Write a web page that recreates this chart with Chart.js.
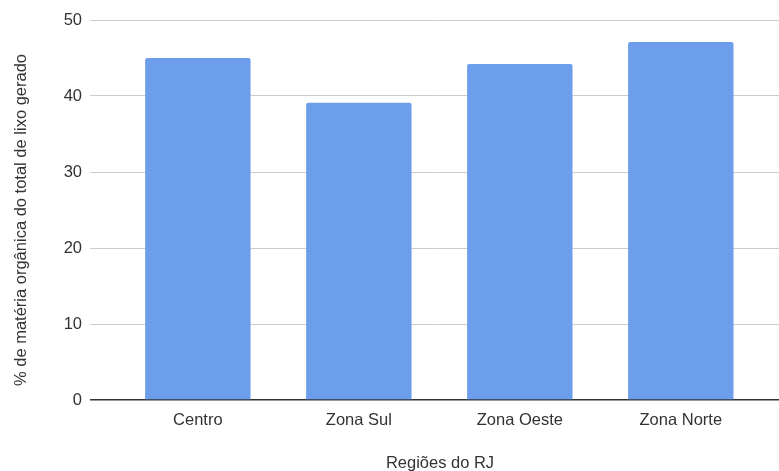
<!DOCTYPE html>
<html>
<head>
<meta charset="utf-8">
<script src="https://cdn.jsdelivr.net/npm/chart.js@4"></script>
<style>
  html, body { margin: 0; padding: 0; background: #fff; }
  #wrap { width: 779px; height: 471px; }
</style>
</head>
<body>
<div id="wrap"><canvas id="my-chart"></canvas></div>
<script>
const regions = ["Centro", "Zona Sul", "Zona Oeste", "Zona Norte"];
const organicShare = [45.0, 39.1, 44.2, 47.1];
const yTicks = [0, 10, 20, 30, 40, 50];
const xTitle = "Regiões do RJ";
const yTitle = "% de matéria orgânica do total de lixo gerado";

const font = { family: "'Liberation Sans', Arial, sans-serif", size: 16.5 };
const textColor = "#333";

// axis titles, placed by hand so they sit where the sheet put them
const axisTitles = {
    id: "axisTitles",
    afterDraw: (chart) => {
        const ctx = chart.ctx;
        ctx.save();
        ctx.font = `${font.size}px ${font.family}`;
        ctx.fillStyle = textColor;
        ctx.textAlign = "center";
        ctx.textBaseline = "middle";
        ctx.fillText(xTitle, 440, 463);
        ctx.translate(21, 220);
        ctx.rotate(-Math.PI / 2);
        ctx.fillText(yTitle, 0, 0);
        ctx.restore();
    },
};

const myChart = document.getElementById("my-chart");

new Chart(myChart, {
    type: "bar",
    data: {
        datasets: [
            {
                label: "% de matéria orgânica",
                data: regions.map((r, i) => ({ x: i, y: organicShare[i] })),
                backgroundColor: "#6d9eeb",
                borderRadius: 2,
                borderSkipped: "bottom",
                barPercentage: 0.655,
                categoryPercentage: 1,
            },
        ],
    },
    plugins: [axisTitles],
    options: {
        responsive: true,
        maintainAspectRatio: false,
        animation: false,
        layout: { padding: { top: 20, right: 0, left: 0, bottom: 0 } },
        plugins: {
            legend: { display: false },
            tooltip: { enabled: false },
        },
        scales: {
            x: {
                type: "linear",
                offset: false,
                min: -0.67,
                max: 3.61,
                afterBuildTicks: (scale) => {
                    scale.ticks = regions.map((r, i) => ({ value: i }));
                },
                afterFit: (scale) => { scale.height = 71; },
                grid: { display: false },
                border: { display: false },
                ticks: {
                    color: textColor,
                    font: font,
                    padding: 3,
                    maxRotation: 0,
                    autoSkip: false,
                    callback: (v) => regions[v],
                },
            },
            y: {
                min: 0,
                max: 50,
                afterBuildTicks: (scale) => {
                    scale.ticks = yTicks.map((v) => ({ value: v }));
                },
                afterFit: (scale) => { scale.width = 90; },
                border: { display: false },
                grid: {
                    color: (ctx) => (ctx.tick.value === 0 ? "#333" : "#ccc"),
                    lineWidth: (ctx) => (ctx.tick.value === 0 ? 1.5 : 1),
                    drawTicks: false,
                },
                ticks: {
                    color: textColor,
                    font: font,
                    padding: 8,
                },
            },
        },
    },
});
</script>
</body>
</html>
